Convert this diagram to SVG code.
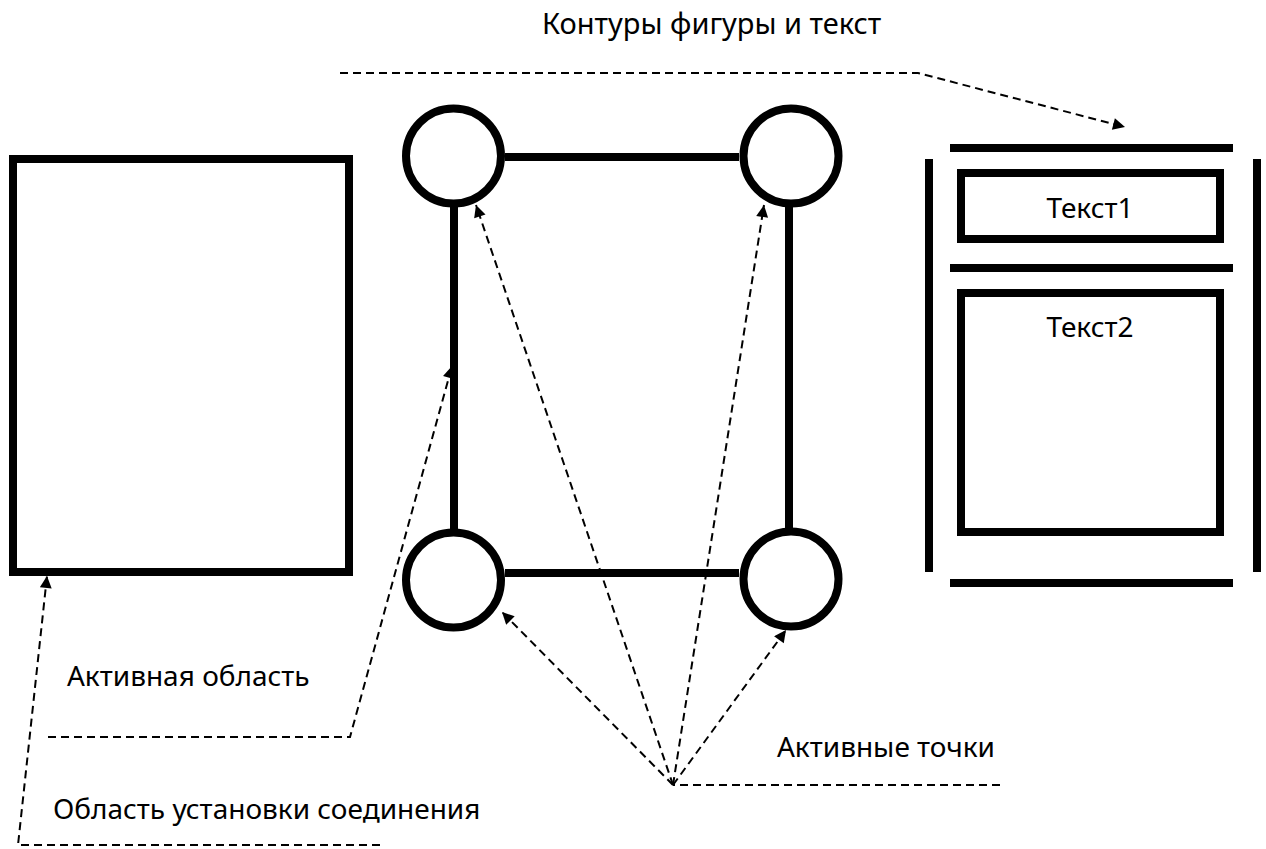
<svg xmlns="http://www.w3.org/2000/svg" width="1266" height="849" viewBox="0 0 1266 849">
  <style>
    .shape { fill: none; stroke: #000; stroke-width: 8; }
    .bar { stroke: #000; stroke-width: 8; }
    .conn { fill: none; stroke: #000; stroke-width: 2; stroke-dasharray: 8 5; }
    .arrow { marker-end: url(#head); }
    .label { font-family: "Noto Sans", "Open Sans", sans-serif; font-size: 28px; fill: #000; }
  </style>
  <defs>
    <marker id="head" viewBox="0 0 10 10" refX="10" refY="5" markerWidth="15" markerHeight="12" markerUnits="userSpaceOnUse" orient="auto">
      <path d="M0,0 L10,5 L0,10 z" fill="#000"/>
    </marker>
  </defs>
  <rect width="1266" height="849" fill="#fff"/>

  <!-- plain rectangle: active area -->
  <g id="active-area">
    <rect class="shape" x="13" y="159" width="336" height="413"/>
  </g>

  <!-- square with a connection point at each corner -->
  <g id="point-shape">
    <line class="bar" x1="505" y1="157" x2="739" y2="157"/>
    <line class="bar" x1="505" y1="573" x2="739" y2="573"/>
    <line class="bar" x1="454" y1="207" x2="454" y2="529"/>
    <line class="bar" x1="789" y1="207" x2="789" y2="529"/>
    <circle id="pt-tl" class="shape" cx="453.5" cy="156" r="47.5"/>
    <circle id="pt-tr" class="shape" cx="791" cy="156" r="47.5"/>
    <circle id="pt-bl" class="shape" cx="453.5" cy="580" r="47.5"/>
    <circle id="pt-br" class="shape" cx="791" cy="579" r="47.5"/>
  </g>

  <!-- outline and text blocks -->
  <g id="outline-text">
    <line class="bar" x1="950" y1="148" x2="1233" y2="148"/>
    <line class="bar" x1="950" y1="268" x2="1233" y2="268"/>
    <line class="bar" x1="950" y1="583" x2="1233" y2="583"/>
    <line class="bar" x1="929" y1="159" x2="929" y2="572"/>
    <line class="bar" x1="1257" y1="159" x2="1257" y2="572"/>
    <g id="text1">
      <rect class="shape" x="961" y="173" width="259" height="66"/>
      <text class="label" x="1090" y="218" text-anchor="middle">Текст1</text>
    </g>
    <g id="text2">
      <rect class="shape" x="961" y="293" width="259" height="239"/>
      <text class="label" x="1090" y="337" text-anchor="middle">Текст2</text>
    </g>
  </g>

  <!-- captions -->
  <g id="captions">
    <text class="label" x="542" y="34" style="font-size:29px">Контуры фигуры и текст</text>
    <text class="label" x="67" y="686">Активная область</text>
    <text class="label" x="777" y="757">Активные точки</text>
    <text class="label" x="53" y="819">Область установки соединения</text>
  </g>

  <!-- dashed callout connectors -->
  <g id="connectors">
    <path class="conn arrow" d="M340 73 L918 73 L1125 127"/>
    <path class="conn arrow" d="M48 737 L350 737 L452 366"/>
    <path class="conn arrow" d="M380 845 L18 845 L47 576"/>
    <path class="conn" d="M1000 785 L673 785"/>
    <path class="conn arrow" d="M673 785 L476 205"/>
    <path class="conn arrow" d="M673 785 L764 205"/>
    <path class="conn arrow" d="M673 785 L502 612"/>
    <path class="conn arrow" d="M673 785 L786 630"/>
  </g>
</svg>
